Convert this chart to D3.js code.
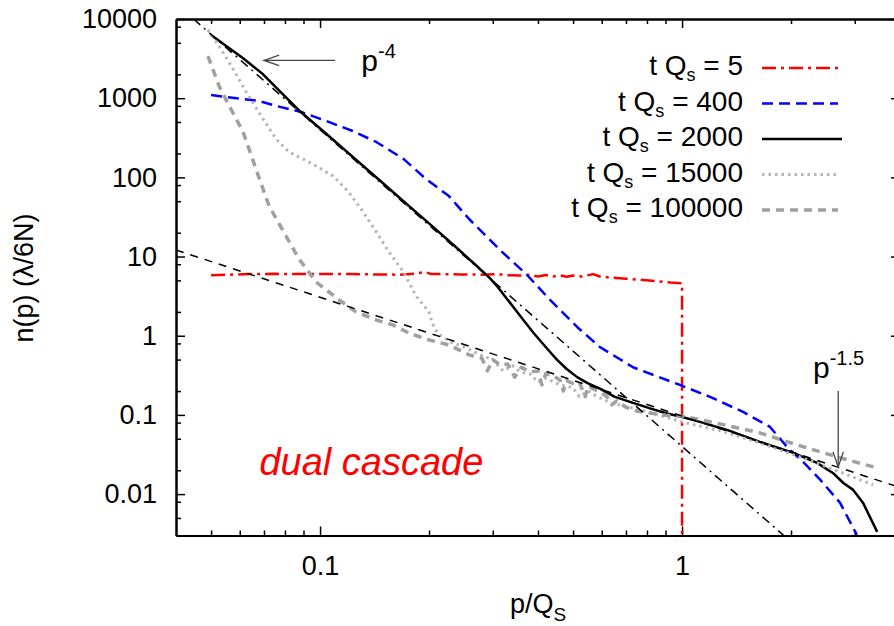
<!DOCTYPE html>
<html>
<head>
<meta charset="utf-8">
<script src="https://cdn.jsdelivr.net/npm/d3@7"></script>
<style>
  body { margin: 0; background: #fff; }
  text { font-family: "Liberation Sans", Arial, sans-serif; }
</style>
</head>
<body>
<div id="chart"></div>
<script>
// axis ranges and tick labels
const xDomain = [0.04, 4];
const yDomain = [0.003, 10000];
const xMajor = [0.1, 1];
const yMajor = [0.01, 0.1, 1, 10, 100, 1000, 10000];
const yLabels = ["0.01", "0.1", "1", "10", "100", "1000", "10000"];

// series, [p/Qs, n(p)]
const tq5 = [[0.05,5.8],[0.056,5.9],[0.064,6.0],[0.075,6.05],[0.088,6.0],[0.1,6.0],[0.121,6.0],[0.14,5.95],
  [0.166,5.9],[0.185,6.1],[0.194,6.4],[0.203,6.0],[0.214,6.0],[0.245,5.95],[0.277,5.9],[0.31,6.0],[0.33,5.8],
  [0.357,5.75],[0.38,5.9],[0.40,5.6],[0.42,5.85],[0.44,5.6],[0.46,5.8],[0.48,5.55],[0.5,5.75],[0.53,5.6],
  [0.568,6.0],[0.593,5.6],[0.64,5.4],[0.70,5.25],[0.766,5.1],[0.85,4.9],[0.93,4.7],[1.0,4.6],[1.0,0.003]];
const tq400 = [[0.05,1096],[0.055,1035],[0.0678,922],[0.0756,799],[0.0887,670],[0.104,515],[0.123,385],
  [0.143,280],[0.170,171],[0.196,95.5],[0.227,58],[0.258,29.8],[0.314,12.1],[0.373,5.86],[0.432,2.83],
  [0.513,1.29],[0.593,0.72],[0.732,0.40],[0.987,0.239],[1.195,0.169],[1.474,0.109],[1.75,0.0705],
  [1.95,0.0394],[2.16,0.0255],[2.41,0.0151],[2.73,0.0078],[3.04,0.00305]];
const tq2000 = [[0.05,6300],[0.0613,3200],[0.0696,2000],[0.0785,1150],[0.0875,700],[0.104,355],[0.123,182],
  [0.149,85],[0.170,50],[0.2,26.2],[0.238,13],[0.27,7.7],[0.295,5.3],[0.31,4.1],[0.335,2.6],[0.36,1.7],
  [0.388,1.1],[0.42,0.72],[0.451,0.5],[0.48,0.38],[0.513,0.3],[0.55,0.25],[0.593,0.215],[0.65,0.17],
  [0.732,0.142],[0.82,0.12],[0.909,0.104],[1.0,0.094],[1.121,0.0816],[1.331,0.0646],[1.64,0.0457],
  [2.03,0.0331],[2.36,0.0248],[2.61,0.0185],[2.79,0.0138],[2.97,0.0113],[3.16,0.0078],[3.46,0.00333]];
const tq15000 = [[0.049,7300],[0.0526,4560],[0.0575,2340],[0.0625,1197],[0.0696,546],[0.0756,305],
  [0.0821,209],[0.0897,171],[0.0975,139],[0.1086,104],[0.120,65.4],[0.1315,36.6],[0.143,20.5],[0.155,11.4],
  [0.170,6.4],[0.184,3.18],[0.2,2.0],[0.204,1.45],[0.211,1.08],[0.229,0.835],[0.25,0.72],[0.277,0.573],
  [0.30,0.50],[0.32,0.36],[0.34,0.42],[0.357,0.349],[0.38,0.33],[0.40,0.26],[0.42,0.29],[0.46,0.239],
  [0.50,0.22],[0.52,0.17],[0.55,0.2],[0.593,0.164],[0.64,0.14],[0.70,0.128],[0.766,0.116],[0.88,0.097],
  [1,0.0816],[1.273,0.063],[1.64,0.0443],[2.12,0.0295],[2.73,0.019],[3.37,0.0131]];
const tq100000 = [[0.049,3400],[0.0526,1426],[0.0561,800],[0.0613,374],[0.0665,128],[0.0723,43.6],
  [0.0805,18.2],[0.0875,9.33],[0.0975,4.78],[0.1129,2.83],[0.1257,2.0],[0.143,1.58],[0.159,1.37],
  [0.176,1.08],[0.2,0.885],[0.227,0.765],[0.258,0.573],[0.28,0.52],[0.29,0.36],[0.30,0.50],[0.314,0.428],
  [0.33,0.44],[0.345,0.30],[0.36,0.40],[0.38,0.349],[0.40,0.36],[0.41,0.24],[0.42,0.33],[0.44,0.31],
  [0.46,0.277],[0.47,0.20],[0.48,0.27],[0.50,0.25],[0.52,0.26],[0.54,0.17],[0.55,0.23],[0.593,0.195],
  [0.62,0.17],[0.64,0.134],[0.66,0.15],[0.70,0.125],[0.75,0.112],[0.82,0.105],[0.9,0.099],[1,0.097],
  [1.273,0.077],[1.64,0.0593],[2.12,0.0407],[2.73,0.0288],[3.46,0.0214]];

// power-law guide lines (end points)
const p4Line = [[0.0447,10000],[1.91,0.003]];
const p15Line = [[0.04,12.1],[4,0.0121]];

const legendLabels = ["5", "400", "2000", "15000", "100000"];

const width = 894, height = 626;
const margin = { top: 19, left: 176 };
const plotW = 724, plotH = 516.5;

const svg = d3.select("#chart").append("svg")
  .attr("width", width).attr("height", height);

const x = d3.scaleLog().domain(xDomain).range([margin.left, margin.left + plotW]);
const y = d3.scaleLog().domain(yDomain).range([margin.top + plotH, margin.top]);

svg.append("defs").append("clipPath").attr("id", "plotclip")
  .append("rect").attr("x", margin.left).attr("y", margin.top)
  .attr("width", plotW).attr("height", plotH);

// minor ticks
const xMinor = [];
[-2, -1, 0].forEach(k => d3.range(2, 10).forEach(m => {
  const v = m * Math.pow(10, k);
  if (v > xDomain[0] && v < xDomain[1]) xMinor.push(v);
}));
const yMinor = [];
d3.range(-3, 4).forEach(k => [2, 5, 8].forEach(m => {
  const v = m * Math.pow(10, k);
  if (v > yDomain[0] && v < yDomain[1]) yMinor.push(v);
}));

function styleAxis(g) {
  g.select(".domain").attr("stroke-width", 2);
  g.selectAll(".tick line").attr("stroke-width", 1.5);
  g.selectAll("text").attr("font-family", "Liberation Sans, Arial, sans-serif")
    .attr("font-size", 27).attr("fill", "#000");
}

const bottom = margin.top + plotH, right = margin.left + plotW;

svg.append("g").attr("transform", `translate(0,${bottom})`)
  .call(d3.axisBottom(x).tickValues(xMajor).tickSize(-9).tickSizeOuter(0).tickPadding(20)
    .tickFormat(d => d === 1 ? "1" : "0.1"))
  .call(styleAxis);
svg.append("g").attr("transform", `translate(0,${bottom})`)
  .call(d3.axisBottom(x).tickValues(xMinor).tickSize(-5).tickSizeOuter(0).tickFormat(""))
  .call(styleAxis);
svg.append("g").attr("transform", `translate(0,${margin.top})`)
  .call(d3.axisTop(x).tickValues(xMajor).tickSize(-9).tickSizeOuter(0).tickFormat(""))
  .call(styleAxis);
svg.append("g").attr("transform", `translate(0,${margin.top})`)
  .call(d3.axisTop(x).tickValues(xMinor).tickSize(-5).tickSizeOuter(0).tickFormat(""))
  .call(styleAxis);

svg.append("g").attr("transform", `translate(${margin.left},0)`)
  .call(d3.axisLeft(y).tickValues(yMajor).tickSize(-9).tickSizeOuter(0).tickPadding(19)
    .tickFormat((d, i) => yLabels[i]))
  .call(styleAxis);
svg.append("g").attr("transform", `translate(${margin.left},0)`)
  .call(d3.axisLeft(y).tickValues(yMinor).tickSize(-5).tickSizeOuter(0).tickFormat(""))
  .call(styleAxis);
svg.append("g").attr("transform", `translate(${right},0)`)
  .call(d3.axisRight(y).tickValues(yMajor).tickSize(-9).tickSizeOuter(0).tickFormat(""))
  .call(styleAxis);
svg.append("g").attr("transform", `translate(${right},0)`)
  .call(d3.axisRight(y).tickValues(yMinor).tickSize(-5).tickSizeOuter(0).tickFormat(""))
  .call(styleAxis);

// curves
const line = d3.line().x(d => x(d[0])).y(d => y(d[1]));
const curves = svg.append("g").attr("clip-path", "url(#plotclip)");

const series = [
  { data: tq5, color: "#ff0000", w: 2.5, dash: "14,5,3,5" },
  { data: tq400, color: "#0000ff", w: 2.5, dash: "11,6" },
  { data: tq2000, color: "#000000", w: 2.5, dash: null },
  { data: tq15000, color: "#b4b4b4", w: 3, dash: "2.5,4" },
  { data: tq100000, color: "#a0a0a0", w: 3.5, dash: "8,6" }
];

series.forEach(s => {
  curves.append("path").datum(s.data)
    .attr("d", line).attr("fill", "none")
    .attr("stroke", s.color).attr("stroke-width", s.w)
    .attr("stroke-dasharray", s.dash)
    .attr("stroke-linejoin", "round");
});

curves.append("path").datum(p4Line).attr("d", line).attr("fill", "none")
  .attr("stroke", "#000").attr("stroke-width", 1.5).attr("stroke-dasharray", "9,5,2,5");
curves.append("path").datum(p15Line).attr("d", line).attr("fill", "none")
  .attr("stroke", "#000").attr("stroke-width", 1.5).attr("stroke-dasharray", "8,7");

// legend
const legend = svg.append("g");
legendLabels.forEach((lab, i) => {
  const ty = 75 + i * 35.5;
  const t = legend.append("text").attr("x", 743).attr("y", ty)
    .attr("text-anchor", "end").attr("font-size", 28).attr("fill", "#000");
  t.append("tspan").text("t Q");
  t.append("tspan").attr("font-size", 18).attr("dy", 6).text("s");
  t.append("tspan").attr("dy", -6).text(" = " + lab);
  const s = series[i];
  legend.append("line").attr("x1", 762).attr("x2", s.dash ? 838 : 842)
    .attr("y1", ty - 7).attr("y2", ty - 7)
    .attr("stroke", s.color).attr("stroke-width", s.w)
    .attr("stroke-dasharray", s.dash);
});

// axis titles
const xt = svg.append("text").attr("x", 538).attr("y", 613)
  .attr("text-anchor", "middle").attr("font-size", 27);
xt.append("tspan").text("p/Q");
xt.append("tspan").attr("font-size", 19).attr("dy", 8).text("S");

svg.append("text").attr("transform", "translate(33,278) rotate(-90)")
  .attr("text-anchor", "middle").attr("font-size", 27).text("n(p) (λ/6N)");

// annotations
const p4Arrow = { from: [0.11, 3000], to: [0.07, 3000] };
const p15Arrow = { from: [2.7, 0.2], to: [2.7, 0.022] };

function arrow(a) {
  const x1 = x(a.from[0]), y1 = y(a.from[1]), x2 = x(a.to[0]), y2 = y(a.to[1]);
  const ang = Math.atan2(y2 - y1, x2 - x1), len = 16, half = 0.33;
  const g = svg.append("g").attr("stroke", "#444").attr("stroke-width", 1.3).attr("fill", "none");
  g.append("line").attr("x1", x1).attr("y1", y1).attr("x2", x2).attr("y2", y2);
  g.append("path").attr("d", d3.line()([
    [x2 - len * Math.cos(ang - half), y2 - len * Math.sin(ang - half)],
    [x2, y2],
    [x2 - len * Math.cos(ang + half), y2 - len * Math.sin(ang + half)]
  ]));
}
arrow(p4Arrow);
arrow(p15Arrow);

function powerLabel(px, py, sup) {
  const t = svg.append("text").attr("x", x(px)).attr("y", y(py)).attr("font-size", 30).attr("fill", "#000");
  t.append("tspan").text("p");
  t.append("tspan").attr("font-size", 20).attr("dy", -13).text(sup);
}
powerLabel(0.13, 2200, "-4");
powerLabel(2.3, 0.29, "-1.5");

svg.append("text").attr("x", x(0.068)).attr("y", y(0.0175))
  .attr("font-size", 38).attr("font-style", "italic").attr("fill", "#ff0000")
  .text("dual cascade");
</script>
</body>
</html>
